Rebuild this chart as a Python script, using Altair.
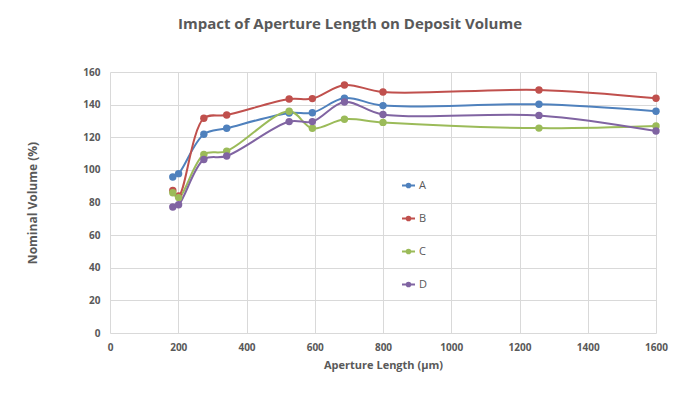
import altair as alt
import pandas as pd

aperture = [184, 201, 275, 342, 525, 593, 687, 800, 1257, 1600]
series_a = [95.6, 97.7, 121.8, 125.5, 134.9, 135.0, 144.0, 139.4, 140.2, 135.9]
series_b = [87.4, 84.0, 131.6, 133.6, 143.4, 143.7, 152.0, 147.7, 149.0, 143.9]
series_c = [86.0, 83.0, 109.5, 111.5, 135.9, 125.5, 131.0, 129.1, 125.6, 126.9]
series_d = [77.2, 78.6, 106.4, 108.5, 129.6, 129.6, 141.6, 133.9, 133.4, 123.8]
names = ["A", "B", "C", "D"]
colors = ["#4f81bd", "#c0504d", "#9bbb59", "#8064a2"]

rows = []
for name, vals in zip(names, [series_a, series_b, series_c, series_d]):
    for x, y in zip(aperture, vals):
        rows.append({"Aperture": x, "Volume": y, "Series": name})
df = pd.DataFrame(rows)

gray = "#595959"
font = "Open Sans"

color = alt.Color(
    "Series:N",
    scale=alt.Scale(domain=names, range=colors),
    legend=alt.Legend(
        title=None,
        orient="none",
        legendX=291,
        legendY=106,
        symbolType="M-1,0L1,0M-0.28,0A0.28,0.28,0,1,1,0.28,0A0.28,0.28,0,1,1,-0.28,0Z",
        symbolSize=169,
        symbolStrokeWidth=2,
        labelFontSize=11,
        labelColor=gray,
        labelFont=font,
        rowPadding=19,
        labelOffset=3,
    ),
)

x = alt.X(
    "Aperture:Q",
    scale=alt.Scale(domain=[0, 1600], nice=False),
    axis=alt.Axis(
        title="Aperture Length (µm)",
        values=list(range(0, 1601, 200)),
        format="d",
        labelFlush=False,
        labelPadding=9,
        titlePadding=7,
    ),
)
y = alt.Y(
    "Volume:Q",
    scale=alt.Scale(domain=[0, 160], nice=False),
    axis=alt.Axis(
        title="Nominal Volume (%)",
        values=list(range(0, 161, 20)),
        labelFlush=False,
        labelPadding=10,
        titlePadding=43,
        titleFontSize=12,
    ),
)

base = alt.Chart(df).encode(x=x, y=y, color=color)
lines = base.mark_line(interpolate="catmull-rom", strokeWidth=2)
points = base.mark_point(filled=True, size=55, opacity=1)

chart = (
    alt.layer(lines, points)
    .properties(
        width=546,
        height=261,
        title=alt.TitleParams(
            "Impact of Aperture Length on Deposit Volume",
            font=font,
            fontSize=15,
            fontWeight="bold",
            color=gray,
            offset=35,
            dx=-33,
        ),
        autosize=alt.AutoSizeParams(type="none"),
        padding={"left": 102, "top": 64, "right": 30, "bottom": 70},
    )
    .configure_view(stroke=None)
    .configure_axis(
        grid=True,
        gridColor="#d9d9d9",
        gridWidth=1,
        domain=False,
        ticks=False,
        labelFont=font,
        labelFontSize=10,
        labelFontWeight="bold",
        labelColor=gray,
        titleFont=font,
        titleFontSize=11,
        titleFontWeight="bold",
        titleColor=gray,
    )
)

chart.save("out.html", embed_options={"renderer": "svg", "actions": False})
